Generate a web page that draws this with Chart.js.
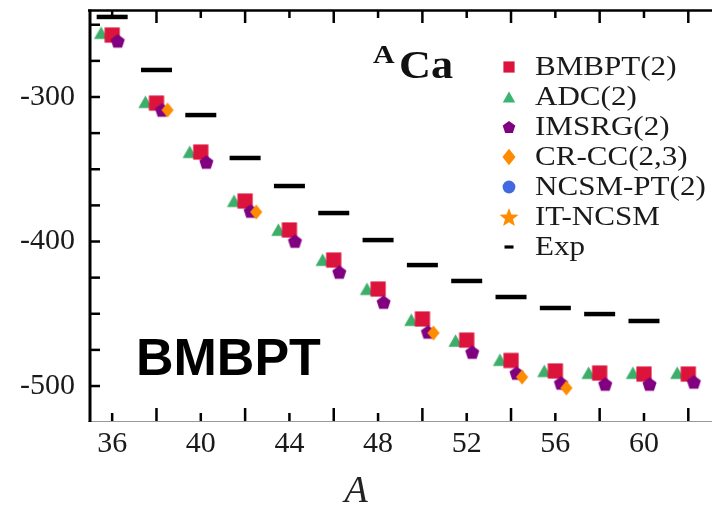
<!DOCTYPE html>
<html>
<head>
<meta charset="utf-8">
<script src="https://cdn.jsdelivr.net/npm/chart.js@4.4.1/dist/chart.umd.min.js"></script>
<style>
  html, body { margin: 0; padding: 0; background: #ffffff; }
  #wrap { width: 712px; height: 507px; position: relative; }
  .fl { position: absolute; left: -9999px; top: 0; }
</style>
</head>
<body>
<div id="wrap"><canvas id="c" width="712" height="507"></canvas></div>
<span class="fl" style="font-family:'Liberation Serif'">x</span>
<span class="fl" style="font-family:'Liberation Serif';font-weight:bold">x</span>
<span class="fl" style="font-family:'Liberation Serif';font-style:italic">x</span>
<span class="fl" style="font-family:'Liberation Sans';font-weight:bold">x</span>
<script>
// ---------------- data ----------------
const massNumbers = [36, 38, 40, 42, 44, 46, 48, 50, 52, 54, 56, 58, 60, 62];
const bmbpt2 = [-257.1, -304.2, -338.1, -372.0, -392.0, -412.8, -432.9, -453.6, -468.2, -482.3, -489.6, -491.0, -491.7, -491.7];
const adc2   = [-255.5, -303.3, -337.9, -371.8, -391.8, -412.6, -432.7, -454.1, -468.5, -481.8, -489.5, -490.8, -490.8, -490.8];
const imsrg2 = [-261.2, -309.0, -345.0, -378.9, -399.7, -421.1, -441.9, -462.6, -476.5, -491.0, -497.9, -498.6, -498.6, -497.2];
const crcc23 = [null, -309.0, null, -379.6, null, null, null, -463.3, null, -493.8, -501.4, null, null, null];
const ncsmPt2 = [];
const itNcsm  = [];
const expData = [-244.6, -281.3, -312.5, -342.2, -361.6, -380.3, -399.0, -416.3, -427.3, -438.4, -446.0, -450.2, -455.0, null];

// horizontal offsets of each method around A (as drawn in the figure)
const adcShift = -0.5, imsrgShift = 0.25, crccShift = 0.5;

const xTickLabels = [36, 40, 44, 48, 52, 56, 60];
const yTickLabels = [-500, -400, -300];

// ---------------- styles ----------------
const COL = {
  bmbpt: '#DC143C', adc: '#3CAE6A', imsrg: '#800080', crcc: '#FF8C00',
  ncsm: '#4169E1', it: '#FF8C00', exp: '#000000'
};

function shapePath(c, kind, x, y, s) {
  c.beginPath();
  if (kind === 'square') {
    c.rect(x - s, y - s, 2 * s, 2 * s);
  } else if (kind === 'triangle') {
    const h = 1.5 * s, w = s * Math.sqrt(3);
    c.moveTo(x, y - h / 2); c.lineTo(x + w / 2, y + h / 2); c.lineTo(x - w / 2, y + h / 2);
  } else if (kind === 'pentagon') {
    const dy = 0.0955 * s;
    for (let k = 0; k < 5; k++) {
      const a = -Math.PI / 2 + k * 2 * Math.PI / 5;
      const px = x + s * Math.cos(a), py = y + dy + s * Math.sin(a);
      if (k) c.lineTo(px, py); else c.moveTo(px, py);
    }
  } else if (kind === 'diamond') {
    c.moveTo(x, y - s); c.lineTo(x + 0.8 * s, y); c.lineTo(x, y + s); c.lineTo(x - 0.8 * s, y);
  } else if (kind === 'circle') {
    c.arc(x, y, s, 0, 2 * Math.PI);
  } else if (kind === 'star') {
    const dy = s * (1 - Math.cos(Math.PI / 5)) / 2;
    for (let k = 0; k < 10; k++) {
      const r = (k % 2 === 0) ? s : s * 0.42;
      const a = -Math.PI / 2 + k * Math.PI / 5;
      const px = x + r * Math.cos(a), py = y + dy + r * Math.sin(a);
      if (k) c.lineTo(px, py); else c.moveTo(px, py);
    }
  }
  c.closePath();
}

function makeMarker(kind, s, color) {
  const size = Math.ceil(2 * s + 4);
  const cv = document.createElement('canvas');
  cv.width = size; cv.height = size;
  const c = cv.getContext('2d');
  c.fillStyle = color;
  shapePath(c, kind, size / 2, size / 2, s);
  c.fill();
  return cv;
}

const mkSquare   = makeMarker('square', 7.6, COL.bmbpt);
const mkTriangle = makeMarker('triangle', 8.2, COL.adc);
const mkPentagon = makeMarker('pentagon', 7.4, COL.imsrg);
const mkDiamond  = makeMarker('diamond', 7.6, COL.crcc);
const mkCircle   = makeMarker('circle', 6.5, COL.ncsm);
const mkStar     = makeMarker('star', 10, COL.it);

function pts(vals, shift) {
  const out = [];
  vals.forEach((v, i) => { if (v !== null && v !== undefined) out.push({ x: massNumbers[i] + shift, y: v }); });
  return out;
}

const datasets = [
  { label: 'BMBPT(2)', data: pts(bmbpt2, 0), pointStyle: mkSquare, pointRadius: 8, order: 2 },
  { label: 'ADC(2)', data: pts(adc2, adcShift), pointStyle: mkTriangle, pointRadius: 8, order: 3 },
  { label: 'IMSRG(2)', data: pts(imsrg2, imsrgShift), pointStyle: mkPentagon, pointRadius: 8, order: 1 },
  { label: 'CR-CC(2,3)', data: pts(crcc23, crccShift), pointStyle: mkDiamond, pointRadius: 8, order: 0 },
  { label: 'NCSM-PT(2)', data: pts(ncsmPt2, 0), pointStyle: mkCircle, pointRadius: 8, order: 4 },
  { label: 'IT-NCSM', data: pts(itNcsm, 0), pointStyle: mkStar, pointRadius: 8, order: 5 },
  { label: 'Exp', data: pts(expData, 0), pointStyle: 'line', pointRadius: 15.5, pointBorderWidth: 4.5,
    pointBorderColor: COL.exp, pointBackgroundColor: COL.exp, order: 6 }
];
datasets.forEach(d => { d.showLine = false; d.pointHoverRadius = d.pointRadius; });

const legendItems = [
  { label: 'BMBPT(2)', kind: 'square', s: 5.6, color: COL.bmbpt },
  { label: 'ADC(2)', kind: 'triangle', s: 7.2, color: '#3CB371' },
  { label: 'IMSRG(2)', kind: 'pentagon', s: 6.6, color: COL.imsrg },
  { label: 'CR-CC(2,3)', kind: 'diamond', s: 8.2, color: COL.crcc },
  { label: 'NCSM-PT(2)', kind: 'circle', s: 6.4, color: COL.ncsm },
  { label: 'IT-NCSM', kind: 'star', s: 10, color: COL.it },
  { label: 'Exp', kind: 'line', s: 4.5, color: COL.exp }
];

const SERIF = '"Liberation Serif", "DejaVu Serif", serif';

const decor = {
  id: 'decor',
  afterDraw(chart) {
    const c = chart.ctx;
    const a = chart.chartArea;
    const xs = chart.scales.x, ys = chart.scales.y;
    c.save();
    // spines
    c.strokeStyle = '#999999'; c.lineWidth = 1;
    c.beginPath(); c.moveTo(88, a.bottom + 0.5); c.lineTo(a.right, a.bottom + 0.5); c.stroke();
    c.strokeStyle = '#000'; c.lineWidth = 2.6;
    c.beginPath(); c.moveTo(88, a.top + 0.5); c.lineTo(a.right, a.top + 0.5); c.stroke();
    c.lineWidth = 3;
    c.beginPath(); c.moveTo(a.left, a.top - 0.5); c.lineTo(a.left, a.bottom + 1); c.stroke();
    // x ticks (inward, top and bottom)
    c.lineWidth = 2.5;
    for (let v = 36; v <= 62; v += 2) {
      const px = xs.getPixelForValue(v);
      const len = (v % 4 === 0) ? 8 : 13;
      c.beginPath(); c.moveTo(px, a.bottom); c.lineTo(px, a.bottom - len); c.stroke();
      c.beginPath(); c.moveTo(px, a.top); c.lineTo(px, a.top + len); c.stroke();
    }
    // y ticks (inward)
    for (let v = -500; v <= -250; v += 25) {
      const py = ys.getPixelForValue(v);
      c.beginPath(); c.moveTo(a.left, py); c.lineTo(a.left + 10, py); c.stroke();
    }
    // legend
    legendItems.forEach((it, i) => {
      const y = 67 + i * 30, x = 509;
      if (it.kind === 'line') {
        c.strokeStyle = it.color; c.lineWidth = 3.2;
        c.beginPath(); c.moveTo(x - it.s, y); c.lineTo(x + it.s, y); c.stroke();
      } else {
        c.fillStyle = it.color;
        shapePath(c, it.kind, x, y, it.s);
        c.fill();
      }
      c.save();
      c.fillStyle = '#1a1a1a';
      c.font = '27px ' + SERIF;
      c.textBaseline = 'alphabetic';
      c.translate(535, y + 8);
      c.scale(1.15, 1);
      c.fillText(it.label, 0, 0);
      c.restore();
    });
    // nucleus label  ^A Ca
    c.fillStyle = '#111';
    c.textBaseline = 'alphabetic';
    c.save();
    c.font = 'bold 26px ' + SERIF;
    c.translate(373, 63); c.scale(1.15, 1); c.fillText('A', 0, 0);
    c.restore();
    c.save();
    c.font = 'bold 41px ' + SERIF;
    c.translate(399, 78); c.scale(1.08, 1); c.fillText('Ca', 0, 0);
    c.restore();
    // method label
    c.fillStyle = '#000';
    c.font = 'bold 52px "Liberation Sans", Arial, sans-serif';
    c.fillText('BMBPT', 136, 375);
    // x axis title
    c.fillStyle = '#222';
    c.font = 'italic 38px ' + SERIF;
    c.textAlign = 'center';
    c.fillText('A', 356, 502);
    c.restore();
  }
};

function build() {
  Chart.defaults.font.family = SERIF;
  Chart.defaults.font.size = 30;
  new Chart(document.getElementById('c'), {
    type: 'scatter',
    data: { datasets },
    options: {
      responsive: false,
      animation: false,
      events: [],
      layout: { autoPadding: false, padding: { top: 10, right: 0, left: 0, bottom: 0 } },
      plugins: { legend: { display: false }, tooltip: { enabled: false }, title: { display: false } },
      scales: {
        x: {
          type: 'linear', position: 'bottom', min: 35.0, max: 63.07,
          grid: { display: false, drawTicks: false },
          border: { display: false },
          afterBuildTicks: s => { s.ticks = xTickLabels.map(v => ({ value: v })); },
          afterFit: s => { s.height = 86; s.paddingLeft = 0; s.paddingRight = 0; },
          ticks: {
            autoSkip: false, maxRotation: 0, padding: 5, color: '#1a1a1a',
            font: { family: SERIF, size: 30 },
            callback: v => String(v)
          }
        },
        y: {
          type: 'linear', position: 'left', min: -524.2, max: -239.8,
          grid: { display: false, drawTicks: false },
          border: { display: false },
          afterBuildTicks: s => { s.ticks = yTickLabels.map(v => ({ value: v })); },
          afterFit: s => { s.width = 90; s.paddingTop = 0; s.paddingBottom = 0; },
          ticks: {
            autoSkip: false, padding: 15, color: '#1a1a1a',
            font: { family: SERIF, size: 30 },
            callback: v => String(v)
          }
        }
      }
    },
    plugins: [decor]
  });
}

const loads = [
  '30px "Liberation Serif"', 'bold 30px "Liberation Serif"', 'italic 30px "Liberation Serif"',
  'bold 30px "Liberation Sans"'
].map(f => document.fonts.load(f).catch(() => null));
Promise.all(loads).then(build, build);
</script>
</body>
</html>
